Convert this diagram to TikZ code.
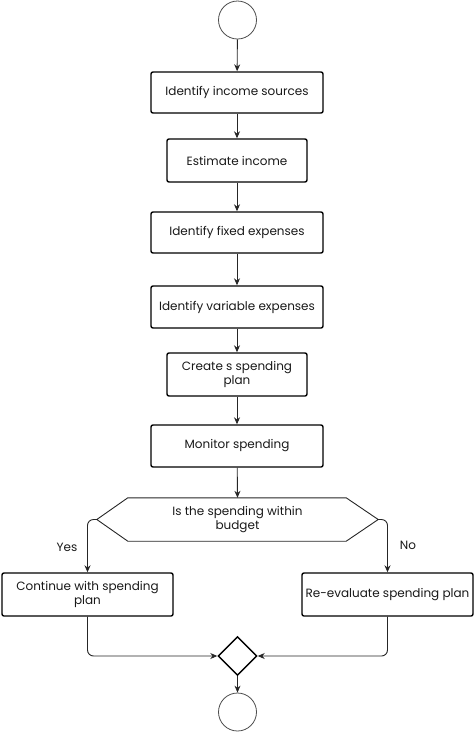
\documentclass[tikz,border=0pt]{standalone}
\usepackage{fontspec}
\setmainfont{Poppins}
\usetikzlibrary{arrows.meta,shapes.geometric}
\begin{document}
\begin{tikzpicture}[x=1pt,y=-1pt,
  font=\fontsize{12}{14.5}\selectfont,
  box/.style={draw=black, line width=1.4pt, rounded corners=2pt, fill=white, text=black!90, align=center, inner sep=1pt},
  wide/.style={box, minimum width=172pt, minimum height=41pt},
  narrow/.style={box, minimum width=140pt, minimum height=43pt},
  term/.style={circle, draw=black!70, line width=0.8pt, minimum size=38pt, inner sep=0pt},
  merge/.style={diamond, draw=black, line width=1.4pt, minimum width=39pt, minimum height=39pt, inner sep=0pt},
  arr/.style={draw=black!85, line width=0.9pt, -{Stealth[length=7pt,width=6pt]}},
  lbl/.style={text=black!90}
]
\useasboundingbox (0,0) rectangle (474,732);
\node[term] (start) at (237.5,20) {};
\node[wide] (b1) at (237,92.5) {Identify income sources};
\node[narrow] (b2) at (237,160.5) {Estimate income};
\node[wide] (b3) at (237,232.5) {Identify fixed expenses};
\node[wide, minimum height=42pt] (b4) at (237,307) {Identify variable expenses};
\node[narrow] (b5) at (237,374.5) {Create s spending\\plan};
\node[wide, minimum height=42pt] (b6) at (237,446) {Monitor spending};
\node[minimum width=281pt, minimum height=43pt, inner sep=0pt, align=center, text=black!90] (dec) at (237.5,519.5) {Is the spending within\\budget};
\draw[black!85, line width=0.9pt] (dec.west) -- ([xshift=31pt]dec.north west) -- ([xshift=-32pt]dec.north east) -- (dec.east) -- ([xshift=-32pt]dec.south east) -- ([xshift=31pt]dec.south west) -- cycle;
\node[box, minimum width=171pt, minimum height=43pt] (yesb) at (87.5,594.5) {Continue with spending\\plan};
\node[box, minimum width=171pt, minimum height=43pt] (nob) at (387.5,594.5) {Re-evaluate spending plan};
\node[merge] (m) at (237.5,656) {};
\node[term] (end) at (237.5,712) {};
\draw[arr] (start) -- (b1);
\draw[arr] (b1) -- (b2);
\draw[arr] (b2) -- (b3);
\draw[arr] (b3) -- (b4);
\draw[arr] (b4) -- (b5);
\draw[arr] (b5) -- (b6);
\draw[arr] (b6) -- (dec.north);
\draw[arr, rounded corners=6pt] (dec.west) -| (yesb.north);
\draw[arr, rounded corners=6pt] (dec.east) -| (nob.north);
\node[lbl] (yes) at (67,547) {Yes};
\node[lbl] (no) at (408,545) {No};
\draw[arr, rounded corners=6pt] (yesb.south) |- (m.west);
\draw[arr, rounded corners=6pt] (nob.south) |- (m.east);
\draw[arr] (m) -- (end);
\end{tikzpicture}
\end{document}
